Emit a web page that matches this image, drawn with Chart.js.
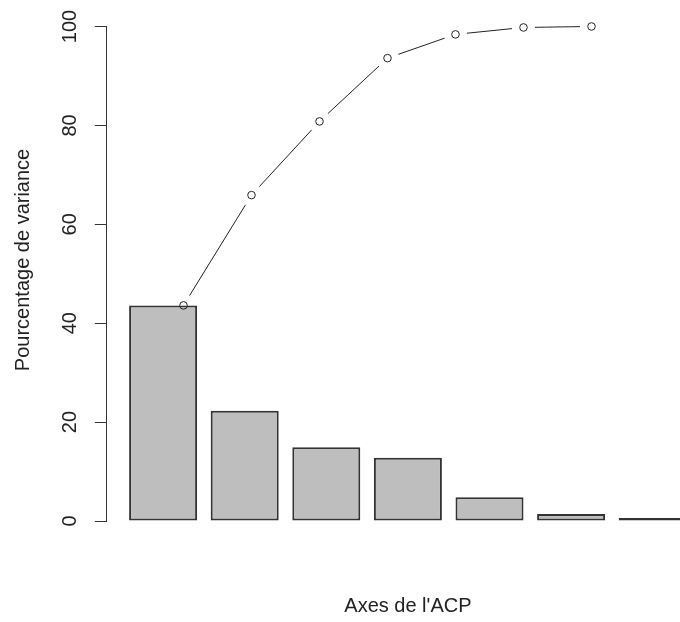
<!DOCTYPE html>
<html>
<head>
<meta charset="utf-8">
<script src="https://cdn.jsdelivr.net/npm/chart.js@4/dist/chart.umd.min.js"></script>
<style>
  html, body { margin: 0; padding: 0; background: #ffffff; overflow: hidden; width: 680px; height: 622px; }
  canvas { display: block; margin-top: -22px; }
</style>
</head>
<body>
<canvas id="c" width="710" height="644"></canvas>
<script>
// ---- data ----
const categories = ['1', '2', '3', '4', '5', '6', '7'];
const varianceValues = [43.6, 22.3, 14.9, 12.8, 4.8, 1.4, 0.2];
const cumulativeValues = [43.6, 65.9, 80.8, 93.6, 98.4, 99.8, 100];
const yTickLabels = [0, 20, 40, 60, 80, 100];
const xTitle = "Axes de l'ACP";
const yTitle = 'Pourcentage de variance';

// ---- R barplot geometry (width 1, space 0.2) ----
const BAR_WIDTH = 1, BAR_SPACE = 0.2;
const barCenters = categories.map((_, i) => BAR_SPACE * (i + 1) + BAR_WIDTH * i + BAR_WIDTH / 2);
const linePositions = categories.map((_, i) => i + 1);

const FONT = { family: '"Liberation Sans", Arial, Helvetica, sans-serif', size: 20 };
const TEXT = '#222222';
const INK = '#333333';
const POINT_GAP = 11.5;

const rAxisLine = {
  id: 'rAxisLine',
  afterDraw(chart) {
    const y = chart.scales.y;
    const ctx = chart.ctx;
    const x = Math.round(y.right - 0.5) + 0.5;
    ctx.save();
    ctx.strokeStyle = INK;
    ctx.lineWidth = 1;
    ctx.beginPath();
    ctx.moveTo(x, y.getPixelForValue(yTickLabels[0]));
    ctx.lineTo(x, y.getPixelForValue(yTickLabels[yTickLabels.length - 1]));
    ctx.stroke();
    ctx.restore();
  }
};

new Chart(document.getElementById('c'), {
  data: {
    datasets: [
      {
        type: 'line',
        label: 'Cumul',
        data: cumulativeValues.map((v, i) => ({ x: linePositions[i], y: v })),
        borderColor: TEXT,
        borderWidth: 1,
        tension: 0,
        pointRadius: 3.8,
        pointBorderWidth: 1,
        pointBorderColor: TEXT,
        pointBackgroundColor: 'rgba(0,0,0,0)',
        clip: false,
        segment: {
          borderDash: ctx => {
            const L = Math.hypot(ctx.p1.x - ctx.p0.x, ctx.p1.y - ctx.p0.y);
            return [0, POINT_GAP, Math.max(L - 2 * POINT_GAP, 0), POINT_GAP];
          }
        },
        order: 0
      },
      {
        type: 'bar',
        label: 'Variance',
        data: varianceValues.map((v, i) => ({ x: barCenters[i], y: v })),
        backgroundColor: '#bebebe',
        borderColor: INK,
        borderWidth: 2,
        borderSkipped: false,
        minBarLength: 3,
        categoryPercentage: 1,
        barPercentage: BAR_WIDTH / (BAR_WIDTH + BAR_SPACE),
        order: 1
      }
    ]
  },
  options: {
    responsive: false,
    animation: false,
    layout: { autoPadding: false, padding: { top: 0, right: 1, bottom: 0, left: 0 } },
    plugins: { legend: { display: false }, tooltip: { enabled: false } },
    scales: {
      x: {
        type: 'linear',
        offset: false,
        min: -0.128,
        max: 8.728,
        afterBuildTicks: s => { s.ticks = barCenters.map(v => ({ value: v })); },
        afterFit: s => { s.height = 80.1; s.paddingLeft = 0; s.paddingRight = 0; },
        ticks: { display: false },
        grid: { display: false },
        border: { display: false },
        title: { display: true, text: xTitle, font: FONT, color: TEXT, padding: { top: 0, bottom: 4 } }
      },
      y: {
        type: 'linear',
        min: -4.22,
        max: 109.8,
        afterBuildTicks: s => { s.ticks = yTickLabels.map(v => ({ value: v })); },
        afterFit: s => { s.width = 106.8; s.paddingTop = 0; s.paddingBottom = 0; },
        ticks: {
          font: FONT,
          color: TEXT,
          minRotation: 90,
          maxRotation: 90,
          crossAlign: 'center',
          padding: 8
        },
        grid: { display: true, drawOnChartArea: false, drawTicks: true, tickLength: 12, color: INK, lineWidth: 1 },
        border: { display: false },
        title: { display: true, text: yTitle, font: FONT, color: TEXT, padding: { top: 11, bottom: 0 } }
      }
    }
  },
  plugins: [rAxisLine]
});
</script>
</body>
</html>
